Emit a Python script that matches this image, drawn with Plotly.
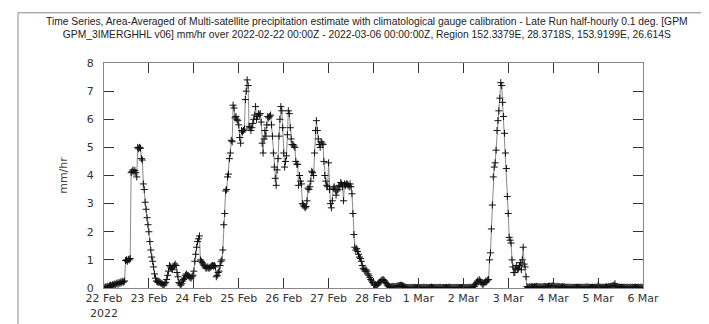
import pandas as pd
import plotly.graph_objects as go

# Half-hourly area-averaged precipitation (mm/hr), one list per day (48 values each)
feb22 = [0.03, 0.0, 0.05, 0.02, 0.06, 0.04, 0.08, 0.1, 0.07, 0.12, 0.1, 0.14,
         0.12, 0.15, 0.18, 0.13, 0.2, 0.16, 0.22, 0.19, 0.24, 0.21, 0.25, 0.98,
         1.0, 0.95, 1.02, 1.0, 1.05, 4.1, 4.15, 4.2, 4.12, 4.18, 4.1, 3.95,
         5.0, 4.95, 5.0, 4.97, 4.6, 4.55, 3.7, 3.5, 3.05, 2.8, 2.5, 2.25]
feb23 = [2.0, 1.65, 1.35, 1.1, 0.95, 0.75, 0.5, 0.35, 0.25, 0.22, 0.2, 0.22,
         0.2, 0.17, 0.15, 0.12, 0.1, 0.15, 0.2, 0.3, 0.45, 0.6, 0.8, 0.75,
         0.7, 0.65, 0.75, 0.8, 0.85, 0.8, 0.55, 0.4, 0.2, 0.15, 0.1, 0.15,
         0.25, 0.3, 0.35, 0.45, 0.5, 0.45, 0.45, 0.4, 0.38, 0.35, 0.4, 0.45]
feb24 = [0.6, 0.95, 1.2, 1.45, 1.65, 1.75, 1.85, 1.0, 0.95, 0.9, 0.85, 0.8,
         0.75, 0.7, 0.72, 0.75, 0.7, 0.72, 0.75, 0.78, 0.8, 0.78, 0.8, 0.75,
         0.4, 0.45, 0.55, 0.6, 0.8, 0.95, 1.0, 1.35, 2.25, 2.65, 3.45, 3.5,
         3.95, 4.05, 4.6, 4.8, 5.25, 5.2, 6.5, 6.4, 6.05, 6.1, 6.0, 5.95]
feb25 = [5.8, 5.35, 5.15, 5.6, 5.55, 5.6, 5.65, 6.7, 7.0, 7.4, 7.2, 5.75,
         5.7, 5.6, 5.7, 5.85, 6.0, 6.15, 6.45, 6.0, 6.1, 6.2, 6.15, 6.2,
         5.9, 5.15, 4.8, 5.3, 5.6, 5.4, 5.8, 6.1, 6.05, 6.1, 6.15, 5.8,
         5.4, 4.8, 4.3, 3.9, 3.65, 4.2, 4.6, 5.4, 6.0, 6.45, 6.3, 5.7]
feb26 = [4.8, 4.3, 4.5, 4.7, 5.45, 6.3, 6.2, 5.7, 5.3, 5.1, 5.1, 5.05,
         5.0, 4.5, 4.4, 4.4, 3.65, 4.0, 3.8, 3.7, 3.0, 2.95, 2.9, 2.85,
         2.9, 3.1, 3.55, 3.5, 3.6, 3.8, 4.15, 4.1, 4.0, 4.8, 5.6, 5.95,
         5.6, 5.3, 5.1, 5.0, 5.2, 5.15, 5.1, 4.5, 4.0, 3.8, 3.65, 3.6]
feb27 = [4.45, 3.5, 3.0, 2.85, 3.1, 3.55, 3.6, 3.5, 3.3, 3.45, 3.5, 3.65,
         3.6, 3.75, 3.7, 3.6, 3.1, 3.7, 3.65, 3.7, 3.7, 3.65, 3.6, 3.7,
         3.6, 3.35, 2.65, 1.9, 1.45, 1.35, 1.4, 1.3, 1.2, 1.1, 1.05, 0.95,
         0.8, 0.7, 0.65, 0.6, 0.65, 0.6, 0.5, 0.45, 0.38, 0.3, 0.25, 0.2]
feb28 = [0.15, 0.1, 0.12, 0.08, 0.1, 0.15, 0.2, 0.22, 0.25, 0.28, 0.3, 0.28,
         0.25, 0.2, 0.15, 0.1, 0.06, 0.04, 0.03, 0.05, 0.04, 0.06, 0.05, 0.04,
         0.05, 0.06, 0.07, 0.08, 0.09, 0.1, 0.09, 0.08, 0.06, 0.04, 0.03, 0.02,
         0.02, 0.01, 0.02, 0.02, 0.01, 0.02, 0.02, 0.01, 0.02, 0.02, 0.01, 0.02]
mar01 = [0.02, 0.01, 0.02, 0.02, 0.01, 0.02, 0.03, 0.02, 0.01, 0.02, 0.02, 0.01,
         0.02, 0.02, 0.03, 0.02, 0.01, 0.02, 0.01, 0.02, 0.02, 0.01, 0.02, 0.03,
         0.02, 0.01, 0.02, 0.02, 0.01, 0.02, 0.02, 0.01, 0.02, 0.03, 0.02, 0.02,
         0.01, 0.02, 0.02, 0.01, 0.02, 0.02, 0.01, 0.02, 0.02, 0.01, 0.02, 0.02]
mar02 = [0.02, 0.01, 0.02, 0.02, 0.01, 0.02, 0.02, 0.03, 0.02, 0.02, 0.04, 0.05,
         0.06, 0.12, 0.2, 0.25, 0.22, 0.3, 0.25, 0.2, 0.15, 0.12, 0.18, 0.2,
         0.25, 0.22, 0.28, 0.3, 1.0, 1.25, 2.1, 2.95, 3.95, 4.3, 4.45, 4.9,
         5.6, 5.95, 6.3, 6.75, 7.3, 7.2, 6.6, 6.1, 5.5, 4.8, 4.25, 3.25]
mar03 = [2.65, 1.8, 1.7, 1.6, 1.0, 0.75, 0.55, 0.55, 0.7, 0.8, 0.65, 0.7,
         0.8, 0.9, 0.65, 1.0, 1.45, 0.85, 0.75, 0.4, 0.05, 0.02, 0.03, 0.04,
         0.03, 0.05, 0.04, 0.03, 0.05, 0.04, 0.06, 0.05, 0.04, 0.03, 0.05, 0.04,
         0.03, 0.04, 0.05, 0.06, 0.05, 0.04, 0.05, 0.06, 0.07, 0.05, 0.06, 0.08]
mar04 = [0.07, 0.06, 0.05, 0.04, 0.05, 0.06, 0.04, 0.05, 0.03, 0.04, 0.05, 0.03,
         0.04, 0.03, 0.02, 0.03, 0.02, 0.03, 0.02, 0.03, 0.02, 0.02, 0.03, 0.02,
         0.02, 0.03, 0.02, 0.02, 0.03, 0.02, 0.03, 0.02, 0.02, 0.03, 0.02, 0.03,
         0.04, 0.03, 0.02, 0.03, 0.02, 0.02, 0.03, 0.02, 0.02, 0.03, 0.02, 0.03]
mar05 = [0.1, 0.04, 0.03, 0.02, 0.03, 0.02, 0.03, 0.02, 0.03, 0.04, 0.03, 0.05,
         0.04, 0.06, 0.05, 0.07, 0.08, 0.1, 0.15, 0.06, 0.04, 0.03, 0.02, 0.03,
         0.02, 0.03, 0.02, 0.02, 0.03, 0.02, 0.02, 0.03, 0.02, 0.02, 0.03, 0.02,
         0.02, 0.03, 0.02, 0.02, 0.03, 0.02, 0.02, 0.03, 0.02, 0.02, 0.03, 0.02]
mar06 = [0.02]

tick_dates = ["2022-02-22", "2022-02-23", "2022-02-24", "2022-02-25", "2022-02-26",
              "2022-02-27", "2022-02-28", "2022-03-01", "2022-03-02", "2022-03-03",
              "2022-03-04", "2022-03-05", "2022-03-06"]
tick_labels = ["22 Feb<br>2022", "23 Feb", "24 Feb", "25 Feb", "26 Feb", "27 Feb",
               "28 Feb", "1 Mar", "2 Mar", "3 Mar", "4 Mar", "5 Mar", "6 Mar"]
y_ticks = [0, 1, 2, 3, 4, 5, 6, 7, 8]

title_text = ("Time Series, Area-Averaged of Multi-satellite precipitation estimate with "
              "climatological gauge calibration - Late Run half-hourly 0.1 deg. [GPM<br>"
              "GPM_3IMERGHHL v06] mm/hr over 2022-02-22 00:00Z - 2022-03-06 00:00:00Z, "
              "Region 152.3379E, 28.3718S, 153.9199E, 26.614S")

values = (feb22 + feb23 + feb24 + feb25 + feb26 + feb27 + feb28 +
          mar01 + mar02 + mar03 + mar04 + mar05 + mar06)
times = pd.date_range("2022-02-22 00:00", periods=len(values), freq="30min")

fig = go.Figure()
fig.add_trace(go.Scatter(
    x=times, y=values, mode="lines+markers",
    line=dict(color="#8a8a8a", width=1),
    marker=dict(symbol="cross-thin-open", size=5, color="#111111",
                line=dict(width=1, color="#111111")),
    showlegend=False, hoverinfo="x+y",
))

W, H = 709, 324
L, R, T, B = 96, 74, 55, 36
pw, ph = W - L - R, H - T - B

def px_x(p):
    return (p - L) / pw

def px_y(p):
    return (H - B - p) / ph

fig.update_layout(
    width=W, height=H,
    margin=dict(l=L, r=R, t=T, b=B),
    paper_bgcolor="white", plot_bgcolor="white",
    font=dict(family="DejaVu Sans", size=11, color="#333333"),
    xaxis=dict(
        type="date", range=["2022-02-22 00:00", "2022-03-06 00:00"],
        tickvals=tick_dates, ticktext=tick_labels,
        ticks="inside", ticklen=10, tickcolor="#333333", tickwidth=1,
        showline=True, linecolor="#888888", linewidth=1, mirror="ticks",
        showgrid=False, zeroline=False,
        tickfont=dict(family="DejaVu Sans", size=11, color="#333333"),
    ),
    yaxis=dict(
        range=[0, 8], tickvals=y_ticks,
        ticks="inside", ticklen=10, tickcolor="#333333", tickwidth=1,
        showline=True, linecolor="#888888", linewidth=1, mirror="ticks",
        showgrid=False, zeroline=False, ticklabelstandoff=7,
        title=dict(text="mm/hr", font=dict(family="DejaVu Sans", size=11, color="#444444"),
                   standoff=16),
        tickfont=dict(family="DejaVu Sans", size=11, color="#333333"),
    ),
    shapes=[dict(type="rect", xref="paper", yref="paper",
                 x0=px_x(10), x1=px_x(707), y0=px_y(340), y1=px_y(3),
                 line=dict(color="#888888", width=1), fillcolor="rgba(0,0,0,0)")],
    annotations=[dict(text=title_text, xref="paper", yref="paper",
                      x=px_x(358.5), y=px_y(4), xanchor="center", yanchor="top",
                      showarrow=False, align="center",
                      font=dict(family="Liberation Sans", size=10.3, color="#222222"))],
)

fig.write_html("out.html")
